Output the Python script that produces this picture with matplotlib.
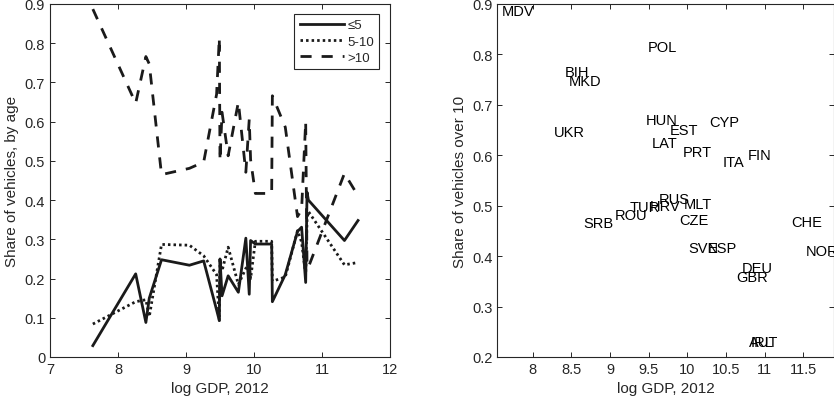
import matplotlib
matplotlib.use("Agg")
import matplotlib.pyplot as plt
from matplotlib.ticker import FormatStrFormatter

plt.rcParams['font.family'] = ['Liberation Sans', 'DejaVu Sans']

# country data, sorted by log GDP
countries = ['MDV', 'UKR', 'BIH', 'MKD', 'SRB', 'ROU', 'TUR', 'HUN', 'POL', 'HRV',
             'LAT', 'RUS', 'EST', 'CZE', 'PRT', 'MLT', 'SVN', 'ESP', 'CYP', 'ITA',
             'GBR', 'DEU', 'FIN', 'AUT', 'IRL', 'CHE', 'NOR']
log_gdp = [7.63, 8.26, 8.41, 8.46, 8.64, 9.05, 9.26, 9.45, 9.49, 9.50,
           9.53, 9.62, 9.77, 9.88, 9.93, 9.95, 10.02, 10.26, 10.27, 10.46,
           10.64, 10.70, 10.76, 10.78, 10.80, 11.33, 11.53]
share_le5 = [0.029, 0.212, 0.088, 0.150, 0.248, 0.234, 0.245, 0.120, 0.093, 0.250,
             0.156, 0.207, 0.165, 0.303, 0.160, 0.297, 0.288, 0.288, 0.141, 0.210,
             0.320, 0.331, 0.190, 0.420, 0.400, 0.297, 0.348]
share_5_10 = [0.084, 0.141, 0.146, 0.103, 0.287, 0.285, 0.258, 0.210, 0.093, 0.250,
              0.220, 0.280, 0.185, 0.226, 0.234, 0.200, 0.295, 0.295, 0.193, 0.204,
              0.322, 0.293, 0.210, 0.351, 0.371, 0.235, 0.241]
share_gt10 = [0.887, 0.647, 0.766, 0.747, 0.465, 0.481, 0.497, 0.670, 0.814, 0.500,
              0.624, 0.513, 0.650, 0.471, 0.606, 0.503, 0.417, 0.417, 0.666, 0.586,
              0.358, 0.376, 0.600, 0.229, 0.229, 0.468, 0.411]
# label positions on the right panel
label_x = [7.60, 8.28, 8.42, 8.47, 8.66, 9.06, 9.26, 9.46, 9.49, 9.51,
           9.54, 9.63, 9.77, 9.89, 9.94, 9.96, 10.02, 10.27, 10.28, 10.46,
           10.64, 10.71, 10.78, 10.80, 10.82, 11.34, 11.53]

axcol = '#262626'

fig = plt.figure(figsize=(8.34, 4.10), dpi=100)
ax1 = fig.add_axes([50/834, 52/410, 340/834, 353/410])
ax2 = fig.add_axes([497.3/834, 52/410, 336.2/834, 353/410])

ax1.plot(log_gdp, share_le5, color='#1a1a1a', lw=2.0, label='≤5')
ax1.plot(log_gdp, share_5_10, color='#1a1a1a', lw=2.0, dashes=(0.9, 1.1), label='5-10')
ax1.plot(log_gdp, share_gt10, color='#1a1a1a', lw=2.0, dashes=(4, 3.6), label='>10')
ax1.set_xlim(7, 12)
ax1.set_ylim(0, 0.9)
ax1.set_xticks([7, 8, 9, 10, 11, 12])
ax1.set_yticks([0, 0.1, 0.2, 0.3, 0.4, 0.5, 0.6, 0.7, 0.8, 0.9])
ax1.yaxis.set_major_formatter(FormatStrFormatter('%g'))
ax1.set_xlabel('log GDP, 2012', fontsize=11, color=axcol)
ax1.set_ylabel('Share of vehicles, by age', fontsize=11, color=axcol)
leg = ax1.legend(loc='upper right', fontsize=9.5, handlelength=3.4, handletextpad=0.2,
                 fancybox=False, framealpha=1, borderpad=0.4, labelspacing=0.3,
                 borderaxespad=0, bbox_to_anchor=(0.968, 0.972))
leg.get_frame().set_edgecolor(axcol)
leg.get_frame().set_linewidth(0.8)
for t in leg.get_texts():
    t.set_color(axcol)

for c, x, y in zip(countries, label_x, share_gt10):
    ax2.text(x, y, c, ha='left', va='center', fontsize=10.5, color='black')
ax2.set_xlim(7.542, 11.892)
ax2.set_ylim(0.2, 0.9)
ax2.set_xticks([8, 8.5, 9, 9.5, 10, 10.5, 11, 11.5])
ax2.set_yticks([0.2, 0.3, 0.4, 0.5, 0.6, 0.7, 0.8, 0.9])
ax2.xaxis.set_major_formatter(FormatStrFormatter('%g'))
ax2.set_xlabel('log GDP, 2012', fontsize=11, color=axcol)
ax2.set_ylabel('Share of vehicles over 10', fontsize=11, color=axcol)

for ax in (ax1, ax2):
    ax.tick_params(direction='in', top=True, right=True, length=3.5, width=0.7,
                   labelsize=10.5, colors=axcol)
    for s in ax.spines.values():
        s.set_color(axcol)
        s.set_linewidth(0.8)

fig.savefig('out.png', dpi=100)
